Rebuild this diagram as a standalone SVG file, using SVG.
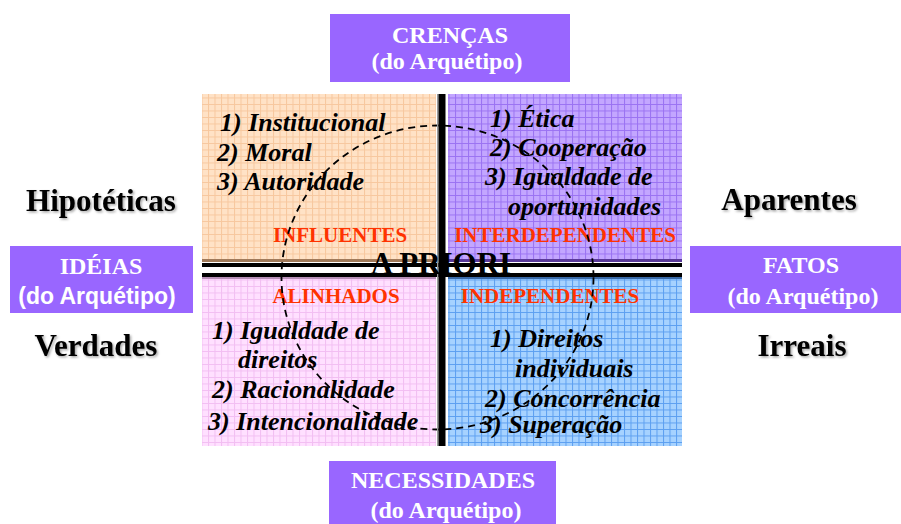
<svg xmlns="http://www.w3.org/2000/svg" width="901" height="524" viewBox="0 0 901 524">
<defs>
<pattern id="gPeach" width="6.5" height="6.5" patternUnits="userSpaceOnUse">
<rect width="6.5" height="6.5" fill="#FFE2C6"/>
<path d="M0 0.5H6.5M0.5 0V6.5" stroke="#F7C79E" stroke-width="1"/>
</pattern>
<pattern id="gPurple" width="6.5" height="6.5" patternUnits="userSpaceOnUse">
<rect width="6.5" height="6.5" fill="#C3A6FF"/>
<path d="M0 0.5H6.5M0.5 0V6.5" stroke="#9A72F2" stroke-width="1"/>
</pattern>
<pattern id="gPink" width="6.5" height="6.5" patternUnits="userSpaceOnUse">
<rect width="6.5" height="6.5" fill="#FFE0FF"/>
<path d="M0 0.5H6.5M0.5 0V6.5" stroke="#F2BEF2" stroke-width="1"/>
</pattern>
<pattern id="gBlue" width="6.5" height="6.5" patternUnits="userSpaceOnUse">
<rect width="6.5" height="6.5" fill="#A6D2FF"/>
<path d="M0 0.5H6.5M0.5 0V6.5" stroke="#5C9FF0" stroke-width="1"/>
</pattern>
<filter id="shadow" x="-10%" y="-20%" width="130%" height="150%">
<feDropShadow dx="1.5" dy="1.5" stdDeviation="0.8" flood-color="#000" flood-opacity="0.35"/>
</filter>
</defs>
<style>
.box{fill:#9966FF}
.bt{font-family:"Liberation Serif","Times New Roman",serif;font-weight:bold;font-size:24px;fill:#fff;text-anchor:middle}
.bs{font-family:"Liberation Sans",Arial,sans-serif;font-weight:bold;font-size:23px;fill:#fff;text-anchor:middle}
.side{font-family:"Liberation Serif","Times New Roman",serif;font-weight:bold;font-size:31px;fill:#000;text-anchor:middle;filter:url(#shadow)}
.item{font-family:"Liberation Serif","Times New Roman",serif;font-weight:bold;font-style:italic;font-size:26px;fill:#000}
.cat{font-family:"Liberation Serif","Times New Roman",serif;font-weight:bold;font-size:21px;fill:#FF3300;text-anchor:middle}
.title{font-family:"Liberation Serif","Times New Roman",serif;font-weight:bold;font-size:31px;fill:#000;text-anchor:middle}
.dash{fill:none;stroke:#000;stroke-width:1.8;stroke-dasharray:7 5}
</style>
<rect width="901" height="524" fill="#fff"/>

<g id="q-influentes">
<rect x="202" y="94" width="234" height="168" fill="url(#gPeach)"/>
<rect x="202" y="259" width="234" height="3" fill="#A07A5A"/>
<text class="item" x="220" y="131">1) Institucional</text>
<text class="item" x="217" y="161">2) Moral</text>
<text class="item" x="217" y="190">3) Autoridade</text>
<text class="cat" x="340" y="242">INFLUENTES</text>
</g>

<g id="q-interdependentes">
<rect x="448" y="94" width="234" height="168" fill="url(#gPurple)"/>
<rect x="448" y="259" width="234" height="3" fill="#5A3A9A"/>
<text class="item" x="490" y="127">1) Ética</text>
<text class="item" x="490" y="156">2) Cooperação</text>
<text class="item" x="485" y="185">3) Igualdade de</text>
<text class="item" x="508" y="215">oportunidades</text>
<text class="cat" x="565" y="242">INTERDEPENDENTES</text>
</g>

<g id="q-alinhados">
<rect x="202" y="277" width="234" height="169" fill="url(#gPink)"/>
<rect x="202" y="277" width="234" height="2" fill="#B890B8"/>
<text class="cat" x="336" y="303">ALINHADOS</text>
<text class="item" x="212" y="339">1) Igualdade de</text>
<text class="item" x="238" y="368">direitos</text>
<text class="item" x="212" y="398">2) Racionalidade</text>
<text class="item" x="208" y="430">3) Intencionalidade</text>
</g>

<g id="q-independentes">
<rect x="448" y="277" width="234" height="169" fill="url(#gBlue)"/>
<rect x="448" y="277" width="234" height="2" fill="#3A6AA8"/>
<text class="cat" x="550" y="303">INDEPENDENTES</text>
<text class="item" x="490" y="347">1) Direitos</text>
<text class="item" x="515" y="377">individuais</text>
<text class="item" x="485" y="407">2) Concorrência</text>
<text class="item" x="480" y="433">3) Superação</text>
</g>

<g id="connectors">
<ellipse class="dash" cx="437.5" cy="277.5" rx="156" ry="152"/>
</g>

<g id="axes">
<rect x="202" y="263" width="480" height="4" fill="#000"/>
<rect x="202" y="273" width="480" height="4" fill="#000"/>
<rect x="437" y="94" width="1.5" height="352" fill="#999"/>
<rect x="438.5" y="94" width="7" height="352" fill="#000"/>
<text class="title" x="441" y="274">A PRIORI</text>
</g>

<g id="crencas">
<rect class="box" x="330" y="14" width="240" height="68"/>
<text class="bt" x="450" y="43">CRENÇAS</text>
<text class="bt" x="447" y="69">(do Arquétipo)</text>
</g>

<g id="necessidades">
<rect class="box" x="329" y="461" width="227" height="63"/>
<text class="bt" x="443" y="488">NECESSIDADES</text>
<text class="bt" x="446" y="518">(do Arquétipo)</text>
</g>

<g id="ideias">
<rect class="box" x="10" y="246" width="183" height="67"/>
<text class="bt" x="101" y="274">IDÉIAS</text>
<text class="bs" x="97" y="304">(do Arquétipo)</text>
</g>

<g id="fatos">
<rect class="box" x="690" y="246" width="211" height="67"/>
<text class="bt" x="801" y="273">FATOS</text>
<text class="bt" x="803" y="304">(do Arquétipo)</text>
</g>

<g id="labels">
<text class="side" x="101" y="211">Hipotéticas</text>
<text class="side" x="96" y="356">Verdades</text>
<text class="side" x="789" y="210">Aparentes</text>
<text class="side" x="802" y="356">Irreais</text>
</g>
</svg>
